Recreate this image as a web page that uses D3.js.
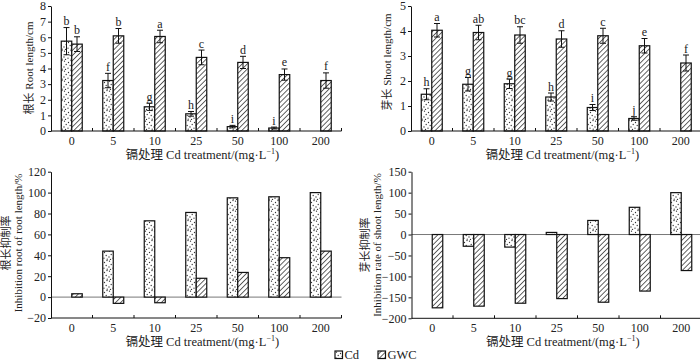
<!DOCTYPE html>
<html>
<head>
<meta charset="utf-8">
<script src="https://cdn.jsdelivr.net/npm/d3@7"></script>
<style>
  body { margin: 0; background: #fff; }
  svg { display: block; }
  text { font-family: "Liberation Serif", "Times New Roman", "Noto Sans CJK SC", serif; fill: #222; }
</style>
</head>
<body>
<div id="chart"></div>
<script>
// categories (Cd treatment, mg/L)
const categories = ['0', '5', '10', '25', '50', '100', '200'];

// root length /cm
const rootCd = [5.75, 3.23, 1.55, 1.1, 0.28, 0.19, null];
const rootCdErr = [0.87, 0.46, 0.23, 0.15, 0.08, 0.06, null];
const rootCdSig = ['b', 'f', 'g', 'h', 'i', 'i', null];
const rootGwc = [5.56, 6.09, 6.05, 4.71, 4.39, 3.61, 3.23];
const rootGwcErr = [0.47, 0.47, 0.4, 0.47, 0.39, 0.36, 0.49];
const rootGwcSig = ['b', 'b', 'a', 'c', 'd', 'e', 'f'];

// shoot length /cm
const shootCd = [1.47, 1.87, 1.89, 1.36, 0.94, 0.5, null];
const shootCdErr = [0.22, 0.27, 0.19, 0.16, 0.12, 0.07, null];
const shootCdSig = ['h', 'g', 'g', 'h', 'i', 'j', null];
const shootGwc = [4.03, 3.94, 3.84, 3.68, 3.81, 3.41, 2.72];
const shootGwcErr = [0.27, 0.29, 0.33, 0.33, 0.3, 0.29, 0.32];
const shootGwcSig = ['a', 'ab', 'bc', 'd', 'c', 'e', 'f'];

// inhibition rate /%
const rootInhCd = [0, 44, 73, 81, 95, 96, 100];
const rootInhGwc = [3.2, -6, -5.4, 18, 23.6, 37.7, 44];
const shootInhCd = [0, -28, -30, 5, 33.6, 65, 100];
const shootInhGwc = [-175, -171, -164, -153, -161.6, -135, -86];

// axis ticks
const rootTicks = [0, 1, 2, 3, 4, 5, 6, 7, 8];
const shootTicks = [0, 1, 2, 3, 4, 5];
const rootInhTicks = [-20, 0, 20, 40, 60, 80, 100, 120];
const shootInhTicks = [-200, -150, -100, -50, 0, 50, 100, 150];

const xTitle = '镉处理 Cd treatment/(mg·L';

const W = 700, H = 364;
const barW = 10.5;

const svg = d3.select('#chart').append('svg')
    .attr('width', W)
    .attr('height', H);

// patterns
const defs = svg.append('defs');

const dots = defs.append('pattern')
    .attr('id', 'dots')
    .attr('patternUnits', 'userSpaceOnUse')
    .attr('width', 9)
    .attr('height', 10);
dots.append('rect').attr('width', 9).attr('height', 10).attr('fill', '#fff');
[[1.5, 1.2], [5.5, 2.5], [8, 0.5], [3.2, 4.5], [7.2, 5.5], [1, 7], [5, 8.2], [8.2, 9.2], [2.5, 9.5]].forEach(p => {
    dots.append('circle').attr('cx', p[0]).attr('cy', p[1]).attr('r', 0.65).attr('fill', '#333');
});

const hatch = defs.append('pattern')
    .attr('id', 'hatch')
    .attr('patternUnits', 'userSpaceOnUse')
    .attr('width', 3.6)
    .attr('height', 3.6)
    .attr('patternTransform', 'rotate(45)');
hatch.append('rect').attr('width', 3.6).attr('height', 3.6).attr('fill', '#fff');
hatch.append('line')
    .attr('x1', 0).attr('y1', 0).attr('x2', 0).attr('y2', 3.6)
    .attr('stroke', '#111').attr('stroke-width', 1.3);

function draw_panel(cfg) {

    const g = svg.append('g');

    const xScale = d3.scaleBand()
        .domain(categories)
        .range([cfg.x0, cfg.x1]);

    const yScale = d3.scaleLinear()
        .domain(cfg.yDomain)
        .range([cfg.yBottom, cfg.yTop]);

    const base = yScale(cfg.yDomain[0]);
    const zero = yScale(0);

    // zero line
    if (cfg.yDomain[0] < 0) {
        g.append('line')
            .attr('x1', cfg.x0).attr('x2', cfg.x1)
            .attr('y1', zero).attr('y2', zero)
            .attr('stroke', '#555').attr('stroke-width', 0.8);
    }

    // bars
    const series = [
        { values: cfg.cd, err: cfg.cdErr, sig: cfg.cdSig, fill: 'url(#dots)', dx: -barW },
        { values: cfg.gwc, err: cfg.gwcErr, sig: cfg.gwcSig, fill: 'url(#hatch)', dx: 0 }
    ];

    series.forEach(s => {
        categories.forEach((c, i) => {
            const v = s.values[i];
            if (v === null || v === 0) return;
            const cx = xScale(c) + xScale.bandwidth() / 2;
            g.append('rect')
                .attr('x', cx + s.dx)
                .attr('y', Math.min(yScale(v), zero))
                .attr('width', barW)
                .attr('height', Math.abs(yScale(v) - zero))
                .attr('fill', s.fill)
                .attr('stroke', '#111')
                .attr('stroke-width', 1.2);

            if (s.err) {
                const mx = cx + s.dx + barW / 2;
                const top = yScale(v + s.err[i]);
                const bot = yScale(v - s.err[i]);
                g.append('line')
                    .attr('x1', mx).attr('x2', mx)
                    .attr('y1', top).attr('y2', bot)
                    .attr('stroke', '#111').attr('stroke-width', 1);
                [top, bot].forEach(yy => {
                    g.append('line')
                        .attr('x1', mx - 3).attr('x2', mx + 3)
                        .attr('y1', yy).attr('y2', yy)
                        .attr('stroke', '#111').attr('stroke-width', 1);
                });
                g.append('text')
                    .attr('x', mx)
                    .attr('y', top - 2.5)
                    .attr('text-anchor', 'middle')
                    .attr('font-size', 12)
                    .text(s.sig[i]);
            }
        });
    });

    // y axis
    const yAxisGroup = g.append('g')
        .attr('transform', `translate(${cfg.x0},0)`)
        .call(d3.axisLeft(yScale).tickValues(cfg.yTicks).tickFormat(d3.format('d'))
            .tickSizeInner(3).tickSizeOuter(0).tickPadding(2));
    yAxisGroup.select('.domain').attr('stroke', '#111');
    yAxisGroup.selectAll('line').attr('stroke', '#111');
    yAxisGroup.selectAll('text')
        .attr('font-size', 12)
        .attr('font-family', '"Liberation Serif", serif')
        .attr('fill', '#222');

    // x axis
    g.append('line')
        .attr('x1', cfg.x0).attr('x2', cfg.x1)
        .attr('y1', base).attr('y2', base)
        .attr('stroke', '#111').attr('stroke-width', 1);
    categories.forEach((c, i) => {
        const bx = xScale(c) + xScale.bandwidth();
        g.append('line')
            .attr('x1', bx).attr('x2', bx)
            .attr('y1', base).attr('y2', base - 3)
            .attr('stroke', '#111').attr('stroke-width', 1);
        g.append('text')
            .attr('x', xScale(c) + xScale.bandwidth() / 2)
            .attr('y', base + 14)
            .attr('text-anchor', 'middle')
            .attr('font-size', 12)
            .text(c);
    });

    // x title
    const xt = g.append('text')
        .attr('x', (cfg.x0 + cfg.x1) / 2 + 6)
        .attr('y', base + 28)
        .attr('text-anchor', 'middle')
        .attr('font-size', 12.5);
    xt.append('tspan').text(xTitle);
    xt.append('tspan').attr('font-size', 8).attr('dy', -5).text('−1');
    xt.append('tspan').attr('dy', 5).text(')');

    // y title
    cfg.yTitle.forEach((t, k) => {
        g.append('text')
            .attr('transform', `translate(${cfg.yTitleX[k]},${cfg.yTitleY}) rotate(-90)`)
            .attr('text-anchor', 'middle')
            .attr('font-size', 11)
            .text(t);
    });
}

draw_panel({
    x0: 51, x1: 341.5, yTop: 6, yBottom: 131, yDomain: [0, 8], yTicks: rootTicks,
    cd: rootCd, cdErr: rootCdErr, cdSig: rootCdSig,
    gwc: rootGwc, gwcErr: rootGwcErr, gwcSig: rootGwcSig,
    yTitle: ['根长 Root length/cm'], yTitleX: [33], yTitleY: 68
});

draw_panel({
    x0: 411, x1: 701.5, yTop: 6, yBottom: 131, yDomain: [0, 5], yTicks: shootTicks,
    cd: shootCd, cdErr: shootCdErr, cdSig: shootCdSig,
    gwc: shootGwc, gwcErr: shootGwcErr, gwcSig: shootGwcSig,
    yTitle: ['芽长 Shoot length/cm'], yTitleX: [391], yTitleY: 62
});

draw_panel({
    x0: 51, x1: 341.5, yTop: 171.7, yBottom: 318, yDomain: [-20, 120], yTicks: rootInhTicks,
    cd: rootInhCd, gwc: rootInhGwc,
    yTitle: ['根长抑制率', 'Inhibition root of root length/%'], yTitleX: [10, 22], yTitleY: 243
});

draw_panel({
    x0: 411.5, x1: 702, yTop: 171.7, yBottom: 318.3, yDomain: [-200, 150], yTicks: shootInhTicks,
    cd: shootInhCd, gwc: shootInhGwc,
    yTitle: ['芽长抑制率', 'Inhibition rate of shoot length/%'], yTitleX: [369, 381], yTitleY: 245
});

// legend
const legend = svg.append('g').attr('transform', 'translate(335,351)');
const legendItems = [
    { label: 'Cd', fill: 'url(#dots)', x: 0 },
    { label: 'GWC', fill: 'url(#hatch)', x: 43 }
];
legendItems.forEach(d => {
    legend.append('rect')
        .attr('x', d.x).attr('y', 0)
        .attr('width', 7.5).attr('height', 7.5)
        .attr('fill', d.fill)
        .attr('stroke', '#111').attr('stroke-width', 1.2);
    legend.append('text')
        .attr('x', d.x + 9.5)
        .attr('y', 8)
        .attr('font-size', 12.5)
        .text(d.label);
});
</script>
</body>
</html>
